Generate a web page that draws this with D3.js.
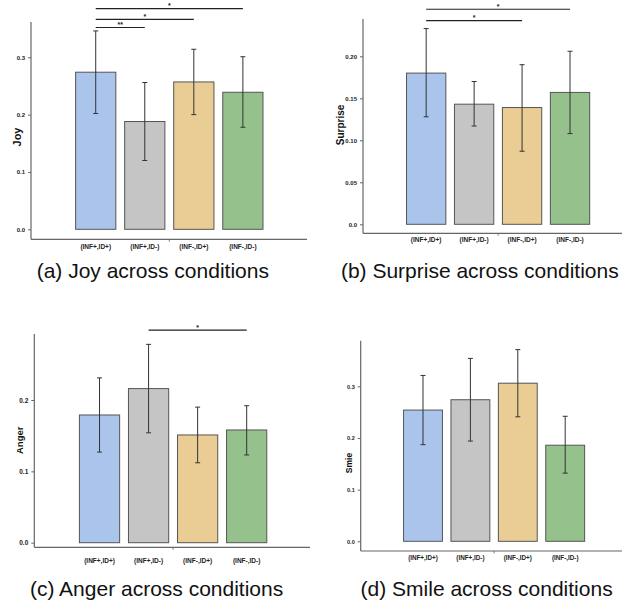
<!DOCTYPE html>
<meta charset="utf-8">
<script src="https://d3js.org/d3.v7.min.js"></script>
<style>
  body { margin: 0; background: #fff; }
  text { font-family: "Liberation Sans", Arial, sans-serif; }
</style>
<div id="chart"></div>
<script>

// categories and colours (same for all four panels)
var categories = ["(INF+,ID+)", "(INF+,ID-)", "(INF-,ID+)", "(INF-,ID-)"];
var barColors = ["#aac4ec", "#c5c5c5", "#eacd94", "#95c18d"];

// (a) joy
var joyMean = [0.274, 0.188, 0.257, 0.239];
var joyLow  = [0.202, 0.120, 0.200, 0.178];
var joyHigh = [0.346, 0.256, 0.314, 0.301];
var joyTicks = [0, 0.1, 0.2, 0.3];
var joyTickLabels = ["0.0", "0.1", "0.2", "0.3"];
var joySig = [[0, 1, "**", 0.352], [0, 2, "*", 0.366], [0, 3, "*", 0.385]];

// (b) surprise
var surpriseMean = [0.180, 0.143, 0.139, 0.157];
var surpriseLow  = [0.128, 0.117, 0.087, 0.108];
var surpriseHigh = [0.233, 0.170, 0.190, 0.206];
var surpriseTicks = [0, 0.05, 0.10, 0.15, 0.20];
var surpriseTickLabels = ["0.0", "0.05", "0.10", "0.15", "0.20"];
var surpriseSig = [[0, 2, "*", 0.2424], [0, 3, "*", 0.256]];

// (c) anger
var angerMean = [0.179, 0.216, 0.151, 0.158];
var angerLow  = [0.127, 0.154, 0.112, 0.123];
var angerHigh = [0.231, 0.278, 0.190, 0.192];
var angerTicks = [0, 0.1, 0.2];
var angerTickLabels = ["0.0", "0.1", "0.2"];
var angerSig = [[1, 3, "*", 0.298]];

// (d) smile
var smileMean = [0.254, 0.274, 0.306, 0.186];
var smileLow  = [0.187, 0.194, 0.241, 0.132];
var smileHigh = [0.321, 0.354, 0.371, 0.242];
var smileTicks = [0, 0.1, 0.2, 0.3];
var smileTickLabels = ["0.0", "0.1", "0.2", "0.3"];
var smileSig = [];

var svg = d3.select("#chart").append("svg")
    .attr("width", 624)
    .attr("height", 606);

// one panel = one small bar chart with error bars
function drawPanel(p) {
  var g = svg.append("g");

  var x = d3.scaleBand()
      .domain(categories)
      .range(p.xRange)
      .paddingInner(0.18)
      .paddingOuter(0.09);

  var y = d3.scaleLinear()
      .domain([0, p.yMax])
      .range([p.y0, p.yTop]);

  // y axis ticks + labels
  var yAxis = g.append("g")
      .attr("transform", "translate(" + p.axisX + ",0)")
      .call(d3.axisLeft(y).tickValues(p.ticks)
        .tickFormat(function(d, i) { return p.tickLabels[i]; })
        .tickSize(3).tickPadding(3));
  yAxis.select(".domain").remove();
  yAxis.selectAll("line").attr("stroke", "#666");
  yAxis.selectAll("text")
      .attr("font-size", p.tickFont)
      .attr("font-weight", "bold")
      .attr("fill", "#222")
      .style("font-family", "Liberation Sans, Arial, sans-serif");

  // axis lines
  g.append("line")
      .attr("x1", p.axisX).attr("x2", p.axisX)
      .attr("y1", p.axisTop).attr("y2", p.axisY)
      .attr("stroke", "#666").attr("stroke-width", 1.2);
  g.append("line")
      .attr("x1", p.axisX).attr("x2", p.axisEnd)
      .attr("y1", p.axisY).attr("y2", p.axisY)
      .attr("stroke", "#666").attr("stroke-width", 1.2);
  // little mid tick on the x axis
  var mid = (x(categories[0]) + x(categories[3]) + x.bandwidth()) / 2;
  g.append("line")
      .attr("x1", mid).attr("x2", mid)
      .attr("y1", p.axisY).attr("y2", p.axisY + 2.5)
      .attr("stroke", "#666").attr("stroke-width", 0.8);

  // x labels
  var xAxis = g.append("g")
      .attr("transform", "translate(0," + p.labelY + ")")
      .call(d3.axisBottom(x).tickSize(0).tickPadding(0));
  xAxis.select(".domain").remove();
  xAxis.selectAll("text")
      .attr("y", 0).attr("dy", "0.35em")
      .attr("font-size", p.xFont)
      .attr("font-weight", "bold")
      .attr("fill", "#222")
      .style("font-family", "Liberation Sans, Arial, sans-serif");

  // bars
  g.selectAll("rect.bar")
      .data(p.mean)
      .enter().append("rect")
      .attr("class", "bar")
      .attr("x", function(d, i) { return x(categories[i]); })
      .attr("y", function(d) { return y(d); })
      .attr("width", x.bandwidth())
      .attr("height", function(d) { return y(0) - y(d); })
      .attr("fill", function(d, i) { return barColors[i]; })
      .attr("stroke", "#555")
      .attr("stroke-width", 1);

  // error bars
  var eb = g.selectAll("g.err")
      .data(p.mean)
      .enter().append("g")
      .attr("class", "err")
      .attr("stroke", "#333")
      .attr("stroke-width", 1);
  var cx = function(i) { return x(categories[i]) + x.bandwidth() / 2; };
  eb.append("line")
      .attr("x1", function(d, i) { return cx(i); })
      .attr("x2", function(d, i) { return cx(i); })
      .attr("y1", function(d, i) { return y(p.low[i]); })
      .attr("y2", function(d, i) { return y(p.high[i]); });
  eb.append("line")
      .attr("x1", function(d, i) { return cx(i) - 2.5; })
      .attr("x2", function(d, i) { return cx(i) + 2.5; })
      .attr("y1", function(d, i) { return y(p.high[i]); })
      .attr("y2", function(d, i) { return y(p.high[i]); });
  eb.append("line")
      .attr("x1", function(d, i) { return cx(i) - 2.5; })
      .attr("x2", function(d, i) { return cx(i) + 2.5; })
      .attr("y1", function(d, i) { return y(p.low[i]); })
      .attr("y2", function(d, i) { return y(p.low[i]); });

  // significance brackets
  p.sig.forEach(function(s) {
    var x1 = cx(s[0]), x2 = cx(s[1]), yy = y(s[3]);
    g.append("line")
        .attr("x1", x1).attr("x2", x2)
        .attr("y1", yy).attr("y2", yy)
        .attr("stroke", "#222").attr("stroke-width", 1.2);
    g.append("text")
        .attr("x", (x1 + x2) / 2).attr("y", yy - 0.5)
        .attr("text-anchor", "middle")
        .attr("font-size", 7)
        .attr("font-weight", "bold")
        .attr("fill", "#222")
        .text(s[2]);
  });

  // y title
  g.append("text")
      .attr("transform", "translate(" + p.titleX + "," + p.titleY + ") rotate(-90)")
      .attr("text-anchor", "middle")
      .attr("dy", "0.35em")
      .attr("font-size", p.titleFont)
      .attr("font-weight", "bold")
      .attr("fill", "#111")
      .text(p.title);

  // caption
  g.append("text")
      .attr("x", p.capX).attr("y", p.capY)
      .attr("text-anchor", "middle")
      .attr("font-size", 21)
      .attr("fill", "#111")
      .text(p.caption);
}

drawPanel({
  mean: joyMean, low: joyLow, high: joyHigh, sig: joySig,
  ticks: joyTicks, tickLabels: joyTickLabels, yMax: 0.3,
  xRange: [71.2, 267.4], y0: 229.3, yTop: 57.3,
  axisX: 31, axisTop: 22, axisY: 239.3, axisEnd: 307, labelY: 246.7,
  tickFont: 6, xFont: 6.5,
  title: "Joy", titleX: 16.7, titleY: 137, titleFont: 11,
  caption: "(a) Joy across conditions", capX: 152.8, capY: 277.5
});

drawPanel({
  mean: surpriseMean, low: surpriseLow, high: surpriseHigh, sig: surpriseSig,
  ticks: surpriseTicks, tickLabels: surpriseTickLabels, yMax: 0.2,
  xRange: [402.2, 594], y0: 224.3, yTop: 56.3,
  axisX: 363, axisTop: 19, axisY: 233.3, axisEnd: 622, labelY: 240,
  tickFont: 6, xFont: 6.5,
  title: "Surprise", titleX: 340.3, titleY: 125, titleFont: 10,
  caption: "(b) Surprise across conditions", capX: 479.8, capY: 277.5
});

drawPanel({
  mean: angerMean, low: angerLow, high: angerHigh, sig: angerSig,
  ticks: angerTicks, tickLabels: angerTickLabels, yMax: 0.2,
  xRange: [75, 271.2], y0: 542.7, yTop: 400,
  axisX: 34.3, axisTop: 334, axisY: 547.3, axisEnd: 310, labelY: 561,
  tickFont: 6.5, xFont: 6.5,
  title: "Anger", titleX: 20, titleY: 440.3, titleFont: 9.5,
  caption: "(c) Anger across conditions", capX: 156.6, capY: 595.5
});

drawPanel({
  mean: smileMean, low: smileLow, high: smileHigh, sig: smileSig,
  ticks: smileTicks, tickLabels: smileTickLabels, yMax: 0.3,
  xRange: [399.3, 588.9], y0: 541.3, yTop: 386.3,
  axisX: 360.7, axisTop: 340.7, axisY: 551, axisEnd: 622, labelY: 558,
  tickFont: 5.5, xFont: 6.3,
  title: "Smie", titleX: 348.7, titleY: 463, titleFont: 8.5,
  caption: "(d) Smile across conditions", capX: 486.6, capY: 595.5
});

</script>
